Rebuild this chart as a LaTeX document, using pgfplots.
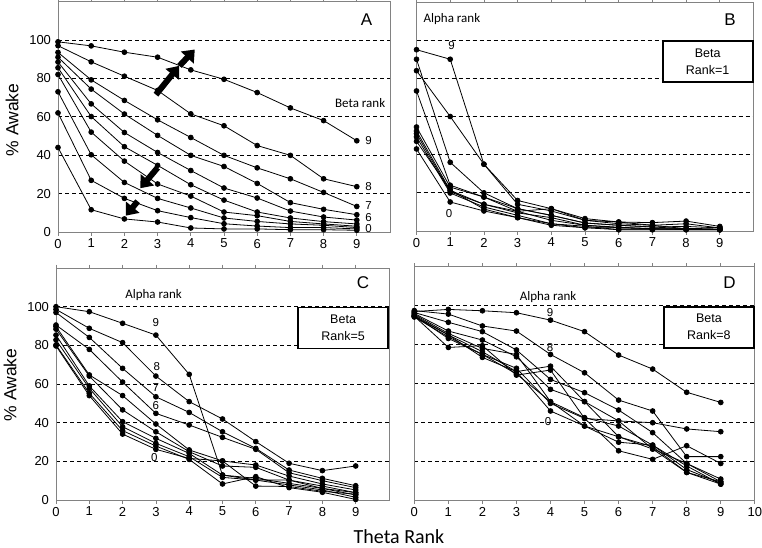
\documentclass[border=0pt]{standalone}
\usepackage{fontspec}
\setmainfont{Liberation Sans}
\newfontfamily\calibri{Carlito}
\usepackage{pgfplots}
\usepackage{pgfplotstable}
\pgfplotsset{compat=1.18}
\usetikzlibrary{arrows.meta}
\definecolor{axgray}{RGB}{130,130,130}

\pgfplotstableread{
x s0 s1 s2 s3 s4 s5 s6 s7 s8 s9
0 44 62 73 82 85.5 88.5 91 93.5 97 99
1 11.6 26.9 40.2 52 60.1 66.7 74.4 79.2 88.6 96.9
2 6.8 17.5 25.8 36.9 44.4 51.8 61.4 68.5 81.1 93.6
3 5.2 11.1 17.5 25 34.7 41.4 50.3 58.4 73.7 91
4 2.1 7.5 12.5 18.7 24.6 32 39.9 49.2 61.5 84.4
5 1.6 4.3 7.3 10.4 16.6 22.9 34.1 39.9 55.3 79.5
6 1.6 3.1 5.5 8.5 10.4 17.7 25.3 33.4 45 72.6
7 1.2 2.3 4.2 5.5 7.3 10.9 15.3 27.7 39.9 64.6
8 1.2 2.3 3.5 4.2 5.4 7.8 11.8 20.6 27.7 58
9 0.9 1.6 2.3 3 4.2 6.2 9 13.3 23.6 47.5
}\tabA

\pgfplotstableread{
x s0 s1 s2 s3 s4 s5 s6 s7 s8 s9
0 43 47 49.3 51 52.4 54.5 73.4 90 84 95
1 15.2 21.5 19.9 20.5 21.3 23 24 36 60 90
2 10.5 11.5 12.6 14 14 17.8 17.8 20 35 35
3 7 7 8.2 9.5 10.3 11.7 10.3 11.7 14 16
4 3 3.8 3.8 7 11.7 8.2 5.6 8.2 10.5 11.7
5 1.7 2.5 1.7 3 5.6 4.2 3 4.2 5.6 6.5
6 0.7 0.7 1.7 2 4.7 3 1.7 3 3.8 4.7
7 0.7 0.7 1.2 1.2 3 2.1 1.2 2.1 3 4.4
8 0.7 0.7 1.2 0.7 1.2 1.2 1.2 2.4 3.8 5.2
9 0.7 0.7 0.7 0.7 1.6 0.7 0.7 1.6 1.6 2.4
}\tabB

\pgfplotstableread{
x s0 s1 s2 s3 s4 s5 s6 s7 s8 s9
0 79.7 80.2 82.8 85.3 88.4 89.7 90.5 97 98.6 100
1 54 55.2 57.8 59 64.1 64.7 77.9 84.1 88.8 97.4
2 34.1 35.9 37.9 40.5 46.6 54 61 68.1 81.4 91.4
3 26.2 27.9 29.3 31.9 35.3 39.3 44.8 53.4 64.1 85.3
4 21.5 21 22.4 24.1 25 25.9 38.8 45.3 50.9 65
5 20.2 8.3 11.7 12.9 17.6 20.2 32.4 35.3 41.9 12.9
6 7.2 12.1 10.3 11.2 16.9 18.1 26.2 26.7 30.2 10.3
7 7 6.4 7.8 8.6 10.3 12.4 14.1 15.5 19 10.3
8 4.5 4 5.2 6 7.2 8.3 10 11.2 15.2 6
9 3 0.3 1.4 2.6 3.8 5.2 6.4 7.4 17.6 3.8
}\tabC

\pgfplotstableread{
x s0 s1 s2 s3 s4 s5 s6 s7 s8 s9
0 94.2 94.4 94.6 94.8 95 95.5 96 96.5 97.5 97
1 84 85 78.6 83.2 85 85.8 87 91.5 95.7 98.1
2 75 73.5 79.5 75 76.4 78.1 82.4 86.7 89.6 97.4
3 65 66.2 64.4 67.9 66.2 75 73.8 77.3 87 96.4
4 50.8 46 67 49.9 69 50.8 57.1 62.2 75 92.6
5 38.3 38.3 42.2 42.2 50.8 42.6 50.8 55.4 65.6 86.7
6 30 32.8 25.6 40.9 32.8 38.3 40.9 46.5 51.6 74.7
7 28.5 26.5 21.2 26.5 27.7 28.5 40 34.9 46 67.5
8 16 14.5 28.2 19.1 14.5 17.8 36.8 19.1 22.6 55.6
9 9 8.5 19.1 9.7 9.7 8.5 35.4 11.1 22.6 50.4
}\tabD

\tikzset{
  num/.style={font=\fontsize{11.5}{13}\selectfont, inner sep=0pt},
  lett/.style={font=\fontsize{17}{19}\selectfont},
  small/.style={font=\calibri\fontsize{13}{15}\selectfont},
  bbox/.style={draw=black, line width=1.8pt, fill=white, align=center, anchor=north east,
    minimum width=90pt, minimum height=41pt, inner sep=2pt,
    font=\fontsize{12.5}{17}\selectfont},
  arr/.style={line width=6pt, -{Triangle[length=11pt,width=17pt]}},
}

\pgfplotsset{
  panel/.style={
    scale only axis, clip=false,
    xmin=0, xmax=10, ymin=0, ymax=120,
    axis line style={axgray, line width=0.9pt},
    xtick={0,...,9},
    ytick={20,40,60,80,100},
    ymajorgrids,
    major grid style={black, line width=0.7pt, dash pattern=on 4pt off 3pt},
    tick align=outside,
    major tick length=3.5pt,
    xtick style={axgray, line width=0.8pt},
    ytick style={draw=none},
    tick label style={font=\fontsize{13}{15}\selectfont},
    /pgf/number format/assume math mode=true,
  },
  leftpanel/.style={
    extra y ticks={0}, extra y tick style={grid=none},
  },
  rightpanel/.style={yticklabels={}},
  ser/.style={black, line width=0.8pt, mark=*, mark size=2.4pt, mark options={solid}},
}

\begin{document}
\begin{tikzpicture}
\path[use as bounding box] (0pt,0pt) rectangle (762pt,-548pt);

% Panel A
\begin{axis}[panel, leftpanel, at={(58pt,-232pt)}, anchor=south west, width=332pt, height=230.5pt]
\pgfplotsinvokeforeach{0,...,9}{\addplot[ser] table[x=x, y=s#1]{\tabA};}
\node[lett] at (axis cs:9.29,110.4) {A};
\node[small] at (axis cs:9.1,67) {Beta rank};
\node[num, anchor=west] at (axis cs:9.25,47.4) {9};
\node[num, anchor=west] at (axis cs:9.25,23.6) {8};
\node[num, anchor=west] at (axis cs:9.25,13.9) {7};
\node[num, anchor=west] at (axis cs:9.25,7.6) {6};
\node[num, anchor=west] at (axis cs:9.25,1.6) {0};
\draw[arr] (axis cs:2.95,71.5) -- (axis cs:3.65,86.5);
\draw[arr] (axis cs:3.66,86.5) -- (axis cs:4.12,95);
\draw[arr] (axis cs:3.0,33.5) -- (axis cs:2.48,22.8);
\draw[arr] (axis cs:2.4,16) -- (axis cs:2.04,8.5);
\end{axis}

% Panel B
\begin{axis}[panel, rightpanel, at={(416.5pt,-231pt)}, anchor=south west, width=337pt, height=229pt]
\pgfplotsinvokeforeach{0,...,9}{\addplot[ser] table[x=x, y=s#1]{\tabB};}
\node[lett] at (axis cs:9.3,111) {B};
\node[small] at (axis cs:1.05,111) {Alpha rank};
\node[num] at (axis cs:1.04,97) {9};
\node[num] at (axis cs:0.97,9.3) {0};
\node[bbox] at (axis cs:10,100) {Beta\\Rank=1};
\end{axis}

% Panel C
\begin{axis}[panel, leftpanel, at={(56pt,-500pt)}, anchor=south west, width=333pt, height=232pt]
\pgfplotsinvokeforeach{0,...,9}{\addplot[ser] table[x=x, y=s#1]{\tabC};}
\node[lett] at (axis cs:9.22,112.3) {C};
\node[small] at (axis cs:2.93,106.2) {Alpha rank};
\node[num] at (axis cs:3.0,91.7) {9};
\node[num] at (axis cs:3.03,69) {8};
\node[num] at (axis cs:3.0,58) {7};
\node[num] at (axis cs:3.0,49) {6};
\node[num] at (axis cs:2.95,22) {0};
\node[bbox] at (axis cs:10,100) {Beta\\Rank=5};
\end{axis}

% Panel D
\begin{axis}[panel, rightpanel, at={(414.3pt,-500.7pt)}, anchor=south west, width=340.5pt, height=234pt, xtick={0,...,10}]
\pgfplotsinvokeforeach{0,...,9}{\addplot[ser] table[x=x, y=s#1]{\tabD};}
\node[lett] at (axis cs:9.26,111.6) {D};
\node[small] at (axis cs:3.93,104.5) {Alpha rank};
\node[num] at (axis cs:3.99,96.7) {9};
\node[num] at (axis cs:3.99,78.3) {8};
\node[num] at (axis cs:3.93,40.4) {0};
\node[bbox] at (axis cs:10,100) {Beta\\Rank=8};
\end{axis}

\node[rotate=90, font=\fontsize{17.5}{20}\selectfont] at (12pt,-120pt) {\% Awake};
\node[rotate=90, font=\fontsize{17.5}{20}\selectfont] at (10pt,-385pt) {\% Awake};
\node[font=\calibri\fontsize{20}{24}\selectfont, anchor=base, inner sep=0pt] at (399pt,-543pt) {Theta Rank};
\end{tikzpicture}
\end{document}
